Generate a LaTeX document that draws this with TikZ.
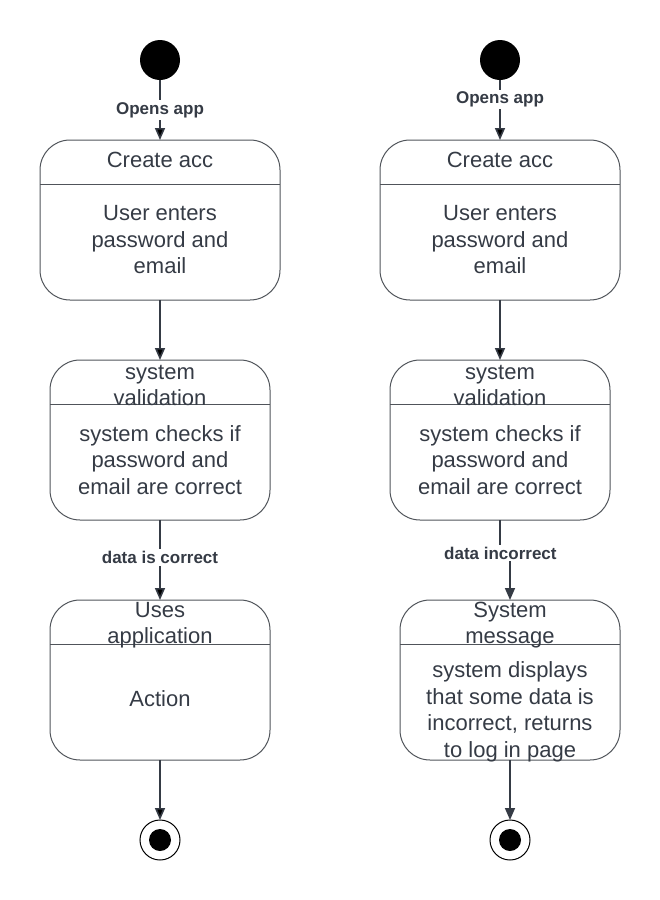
\documentclass[tikz,border=0pt]{standalone}
\usepackage{fontspec}
\setmainfont{Liberation Sans}
\usepackage{tikz}
\usetikzlibrary{ arrows.meta, positioning }
\definecolor{ink}{HTML}{353B45}
\definecolor{rim}{HTML}{50545A}
\tikzset{
>={Triangle[length=12pt,width=10pt]}, % filled arrow heads
node distance=60pt, % vertical gap between states
every node/.style={inner sep=1pt, text=ink},
initstate/.style={circle, fill=black, minimum size=40pt, inner sep=0pt, outer sep=0pt},
finalstate/.style={circle, draw=black, line width=1pt, minimum size=40pt, inner sep=0pt, outer sep=0pt,
  path picture={\fill[black] (path picture bounding box.center) circle (11pt);}},
statebox/.style={draw=rim, line width=1pt, rounded corners=30pt, minimum height=160pt, inner sep=0pt, outer sep=0pt},
statetitle/.style={font=\fontsize{22}{26}\selectfont, align=center},
statebody/.style={font=\fontsize{22}{26.5}\selectfont, align=center},
guard/.style={font=\fontsize{17}{20}\selectfont\bfseries, fill=white, inner sep=2pt},
trans/.style={->, draw=ink, line width=1.6pt},
}

\begin{document}
\begin{tikzpicture}[x=1pt,y=1pt]
  \useasboundingbox (0,0) rectangle (660,-900);

  % left: successful login
  \node[initstate] (startL) at (160,-60) {};
  \node[statebox, minimum width=240pt, below=of startL] (createL) {};
  \node[statebox, minimum width=220pt, below=of createL] (validL) {};
  \node[statebox, minimum width=220pt, below=80pt of validL] (usesL) {};
  \node[finalstate, below=of usesL] (endL) {};

  % right: wrong data
  \node[initstate] (startR) at (500,-60) {};
  \node[statebox, minimum width=240pt, below=of startR] (createR) {};
  \node[statebox, minimum width=220pt, below=of createR] (validR) {};
  \node[statebox, minimum width=220pt, below=80pt of validR, xshift=10pt] (msgR) {};
  \node[finalstate, below=of msgR] (endR) {};

  % compartment lines
  \foreach \s in {createL,validL,usesL,createR,validR,msgR}
    \draw[rim, line width=1pt] ([yshift=-44pt]\s.north west) -- ([yshift=-44pt]\s.north east);

  % titles and bodies
  \node[statetitle] (createLt) at ([yshift=-20pt]createL.north) {Create acc};
  \node[statebody] (createLb) at ([yshift=-100pt]createL.north) {User enters\\password and\\email};
  \node[statetitle] (validLt) at ([yshift=-25pt]validL.north) {system\\validation};
  \node[statebody] (validLb) at ([yshift=-100pt]validL.north) {system checks if\\password and\\email are correct};
  \node[statetitle] (usesLt) at ([yshift=-25pt]usesL.north) {Uses\\application};
  \node[statebody] (usesLb) at ([yshift=-99pt]usesL.north) {Action};

  \node[statetitle] (createRt) at ([yshift=-20pt]createR.north) {Create acc};
  \node[statebody] (createRb) at ([yshift=-100pt]createR.north) {User enters\\password and\\email};
  \node[statetitle] (validRt) at ([yshift=-25pt]validR.north) {system\\validation};
  \node[statebody] (validRb) at ([yshift=-100pt]validR.north) {system checks if\\password and\\email are correct};
  \node[statetitle] (msgRt) at ([yshift=-25pt]msgR.north) {System\\message};
  \node[statebody] (msgRb) at ([yshift=-112pt]msgR.north) {system displays\\that some data is\\incorrect, returns\\to log in page};

  % transitions
  \path[trans]
  (startL) edge node[guard]{Opens app} (createL)
  (createL) edge (validL)
  (validL) edge node[guard, pos=0.47]{data is correct} (usesL)
  (usesL) edge (endL);

  \path[trans]
  (startR) edge node[guard, pos=0.32]{Opens app} (createR)
  (createR) edge (validR);
  \draw[trans] (validR.south) -- ++(0,-33pt) -| node[guard, pos=0.02]{data incorrect} (msgR.north);
  \draw[trans] (msgR) -- (endR);
\end{tikzpicture}
\end{document}
